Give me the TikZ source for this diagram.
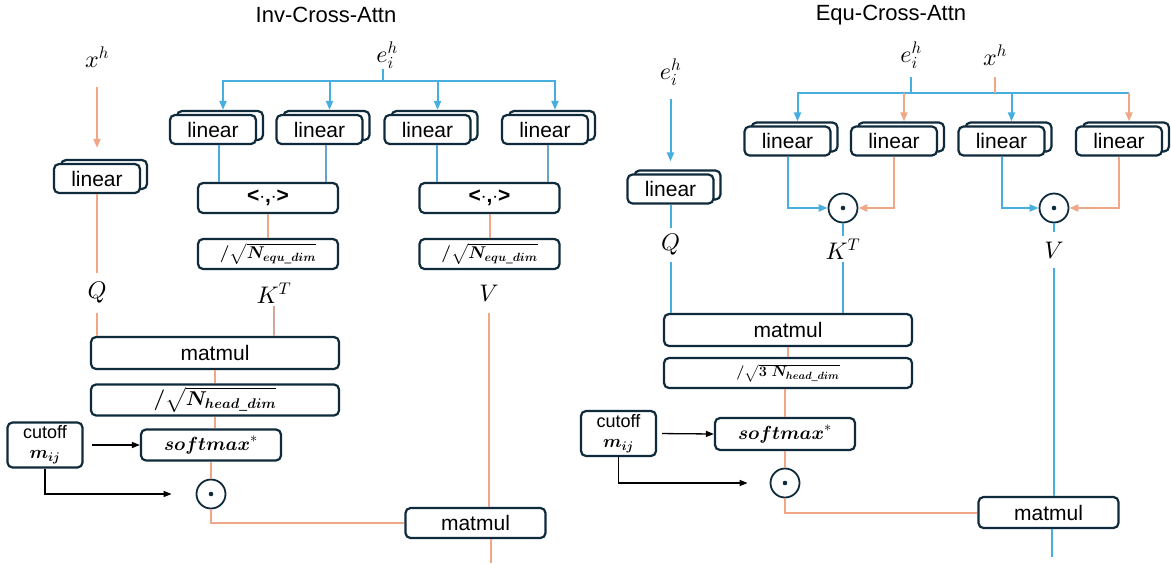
\documentclass[tikz,border=0pt]{standalone}
\usepackage{amsmath}
\usepackage{fontspec}
\setmainfont{Liberation Sans}
\usetikzlibrary{shadows,arrows.meta}

% scalable math fonts
\DeclareFontShape{OML}{cmm}{m}{it}{<->cmmi10}{\skewchar\font'177}
\DeclareFontShape{OML}{cmm}{b}{it}{<->cmmib10}{\skewchar\font'177}

\definecolor{boxline}{HTML}{0E2A3B}
\definecolor{eblue}{HTML}{48AEE0}
\definecolor{gblue}{HTML}{6AA5C8}
\definecolor{xorange}{HTML}{EFA788}
\definecolor{kbrown}{HTML}{D4A898}

\newcommand{\sqequ}{$\boldsymbol{/\sqrt{N_{equ\text{\_}dim}}}$}
\newcommand{\sqhead}{$\boldsymbol{/\sqrt{N_{head\text{\_}dim}}}$}
\newcommand{\sqthree}{$\boldsymbol{/\sqrt{3\;N_{head\text{\_}dim}}}$}
\newcommand{\smax}{$\boldsymbol{softmax}^{*}$}
\newcommand{\ipr}{\textbf{<$\cdot$,$\cdot$>}}

\tikzset{
  opbox/.style={draw=boxline, line width=2.2pt, rounded corners=5pt, fill=white, inner sep=0pt, font=\fontsize{21}{24}\selectfont},
  linbox/.style={opbox, minimum width=86pt, minimum height=29pt,
    copy shadow={shadow xshift=7pt, shadow yshift=4pt, draw=boxline, fill=white, line width=2.2pt}},
  widebox/.style={opbox, minimum width=248pt, minimum height=31pt},
  midbox/.style={opbox, minimum width=140pt, minimum height=31pt},
  equfont/.style={font=\fontsize{17}{20}\selectfont},
  threefont/.style={font=\fontsize{15}{18}\selectfont},
  headfont/.style={font=\fontsize{20}{24}\selectfont},
  smfont/.style={font=\fontsize{19}{22}\selectfont},
  cutbox/.style={opbox, minimum width=75pt, minimum height=45pt, align=center, font=\fontsize{18}{20}\selectfont},
  dotop/.style={circle, draw=boxline, line width=1.8pt, fill=white, minimum size=29pt, inner sep=0pt,
    path picture={\fill[boxline] (path picture bounding box.center) circle (2.3pt);}},
  mlbl/.style={inner sep=0pt, font=\fontsize{24}{28}\selectfont},
  ttl/.style={inner sep=0pt, font=\fontsize{22}{26}\selectfont},
  oline/.style={draw=xorange, line width=2pt},
  bline/.style={draw=eblue, line width=2pt},
  arr/.style={-{Triangle[length=9pt,width=7pt]}},
  cline/.style={draw=black, line width=1.3pt, -{Triangle[length=8pt,width=6pt]}}
}

\begin{document}
\begin{tikzpicture}[x=1pt, y=-1pt]
\useasboundingbox (0,0) rectangle (1171,563);

% titles
\node[ttl] (tinv) at (326,15) {Inv-Cross-Attn};
\node[ttl] (tequ) at (891,15) {Equ-Cross-Attn};

%%% Inv-Cross-Attn
\node[mlbl, minimum height=60pt] (xh1) at (97,57) {$x^h$};
\node[mlbl, minimum height=20pt] (ei1) at (387,55) {$e_i^h$};
\coordinate (bus1) at (383,81);

\node[linbox] (lq1) at (97,178.5) {linear};
\node[linbox] (l1) at (213,129.5) {linear};
\node[linbox] (l2) at (319.5,129.5) {linear};
\node[linbox] (l3) at (427.5,129.5) {linear};
\node[linbox] (l4) at (545,129.5) {linear};

\node[midbox, minimum height=30pt] (ip1) at (268,198) {\ipr};
\node[midbox, minimum height=30pt] (ip2) at (489.5,198) {\ipr};
\node[midbox, minimum height=30pt, equfont] (sq1) at (268,254) {\sqequ};
\node[midbox, minimum height=30pt, equfont] (sq2) at (489.5,254) {\sqequ};

\node[mlbl, minimum height=40pt] (q1) at (97,293) {$Q$};
\node[mlbl, minimum height=26pt] (k1) at (274,293) {$K^T$};
\node[mlbl, minimum height=40pt] (v1) at (489,293) {$V$};

\node[widebox, minimum height=32pt] (mm1) at (215,353) {matmul};
\node[widebox, headfont] (sqh1) at (215,400) {\sqhead};
\node[midbox, smfont] (sm1) at (211,445) {\smax};
\node[cutbox] (cut1) at (45,445) {cutoff\\$\boldsymbol{m_{ij}}$};
\node[dotop] (dot1) at (211,494) {};
\node[midbox, minimum height=30pt] (mm2) at (475.5,523) {matmul};
\coordinate (out1) at (491,563);

% inputs
\draw[oline, arr, shorten >=15pt] (xh1.south) -- (lq1.north);
\draw[bline] (ei1.south -| bus1) -- (bus1);
\foreach \n in {l1,l2,l3,l4}
  \draw[bline, arr] (bus1) -| ([xshift=10pt,yshift=4pt]\n.north);

% inner products
\coordinate (b1) at ([xshift=6pt]l1.south);
\coordinate (b2) at ([xshift=6pt]l2.south);
\coordinate (b3) at ([xshift=9pt]l3.south);
\coordinate (b4) at ([xshift=3pt]l4.south);
\draw[bline] (b1) -- (b1 |- ip1.north);
\draw[draw=gblue, line width=2pt] (b2) -- (b2 |- ip1.north);
\draw[bline] (b3) -- (b3 |- ip2.north);
\draw[draw=gblue, line width=2pt] (b4) -- (b4 |- ip2.north);
\draw[oline] (ip1) -- (sq1);
\draw[oline] (ip2) -- (sq2);

% attention
\draw[oline] (lq1.south) -- (q1.north);
\draw[oline] (q1.south) -- (q1.south |- mm1.north);
\draw[draw=kbrown, line width=2pt] (k1.south) -- (k1.south |- mm1.north);
\draw[oline] (mm1.south) -- (sqh1.north);
\draw[oline] (sqh1.south) -- (sqh1.south |- sm1.north);
\draw[oline] (sm1.south) -- (dot1.north);
\draw[cline, shorten <=8pt] (cut1.east) -- (sm1.west);
\draw[cline, shorten >=24pt] (cut1.south) |- (dot1.west);
\draw[oline] (dot1.south) |- (mm2.west);
\draw[oline] (v1.south) -- (v1.south |- mm2.north);
\draw[oline] (mm2.south -| out1) -- (out1);

%%% Equ-Cross-Attn
\node[mlbl, minimum height=54pt] (ei2) at (670.5,72) {$e_i^h$};
\node[mlbl, minimum height=44pt] (ei3) at (911,55) {$e_i^h$};
\node[mlbl, minimum height=44pt] (xh2) at (995,55) {$x^h$};
\coordinate (bus2) at (911,93);

\node[linbox] (lq2) at (670.5,189) {linear};
\node[linbox] (r1) at (787.5,141) {linear};
\node[linbox] (r2) at (894,141) {linear};
\node[linbox] (r3) at (1001.5,141) {linear};
\node[linbox] (r4) at (1119,141) {linear};

\node[dotop] (dotk) at (843,208) {};
\node[dotop] (dotv) at (1054,208) {};

\node[mlbl, minimum height=34pt] (q2) at (670.5,245) {$Q$};
\node[mlbl, minimum height=26pt] (k2) at (843,249) {$K^T$};
\node[mlbl, minimum height=35pt] (v2) at (1054,250) {$V$};

\node[widebox, minimum height=32pt] (mm3) at (788,330) {matmul};
\node[widebox, minimum height=30pt, threefont] (sq3) at (788,373) {\sqthree};
\node[midbox, minimum height=32pt, smfont] (sm2) at (785,434) {\smax};
\node[cutbox] (cut2) at (618.5,433.5) {cutoff\\$\boldsymbol{m_{ij}}$};
\node[dotop] (dot3) at (785,483) {};
\node[midbox] (mm4) at (1048.5,512.5) {matmul};
\coordinate (out2) at (1052,557);

% inputs
\draw[bline, arr, shorten >=12pt] (ei2.south -| lq2.north) -- (lq2.north);
\coordinate (a2) at ([xshift=10pt,yshift=4pt]r2.north);
\coordinate (a4) at ([xshift=10pt,yshift=4pt]r4.north);
\draw[bline] (ei3.south) -- (bus2);
\draw[bline, arr] (bus2) -| ([xshift=10pt,yshift=4pt]r1.north);
\draw[bline, arr] (bus2) -| ([xshift=10pt,yshift=4pt]r3.north);
\draw[bline] (bus2) -- (bus2 -| a4);
\draw[oline] (xh2.south) -- (xh2.south |- bus2);
\draw[oline, arr] (a2 |- bus2) -- (a2);
\draw[oline, arr] (a4 |- bus2) -- (a4);

% products
\draw[bline, arr] (r1.south) |- (dotk.west);
\draw[oline, arr] (r2.south) |- (dotk.east);
\draw[bline, arr] (r3.south) |- (dotv.west);
\draw[oline, arr] (r4.south) |- (dotv.east);

% attention
\draw[bline] (lq2.south) -- (q2.north);
\draw[bline] (q2.south) -- (q2.south |- mm3.north);
\draw[bline] (dotk.south) -- (k2.north);
\draw[bline] (k2.south) -- (k2.south |- mm3.north);
\draw[bline] (dotv.south) -- (v2.north);
\draw[bline] (v2.south) -- (v2.south |- mm4.north);
\draw[oline] (mm3.south) -- (sq3.north);
\draw[oline] (sm2.north |- sq3.south) -- (sm2.north);
\draw[oline] (sm2.south) -- (dot3.north);
\draw[cline, shorten <=5pt] (cut2.east) -- (sm2.west);
\draw[cline, shorten >=22pt] (cut2.south) |- (dot3.west);
\draw[oline] (dot3.south) |- (mm4.west);
\draw[bline] (mm4.south -| out2) -- (out2);
\end{tikzpicture}
\end{document}
